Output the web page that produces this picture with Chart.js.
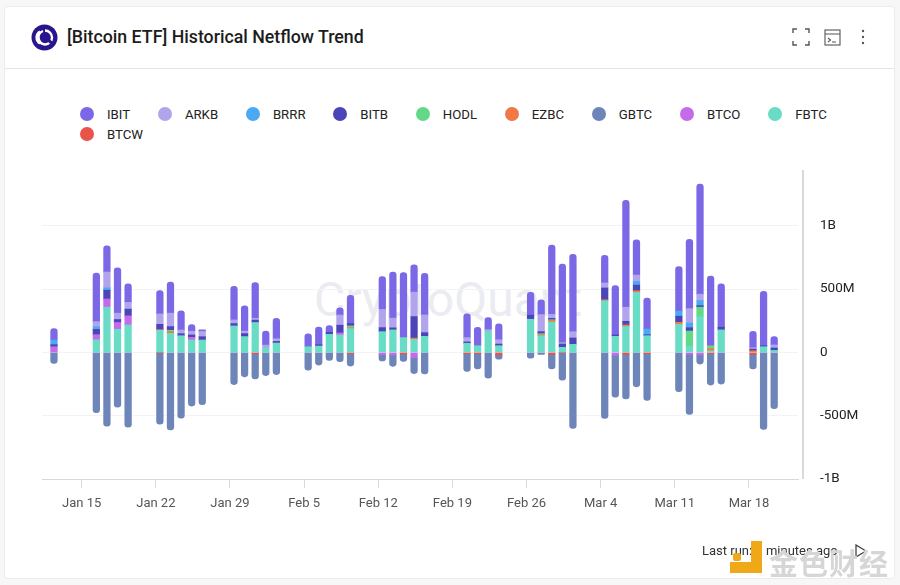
<!DOCTYPE html>
<html>
<head>
<meta charset="utf-8">
<title>Bitcoin ETF Historical Netflow Trend</title>
<script src="https://cdn.jsdelivr.net/npm/chart.js@4"></script>
<style>
  html, body { margin: 0; padding: 0; background: #f7f7f7; }
  body { width: 900px; height: 585px; position: relative; overflow: hidden; font-family: Roboto, sans-serif; }
  #card { position: absolute; left: 4px; top: 6px; width: 889px; height: 571px; background: #fff; border: 1px solid #ececec; border-radius: 4px; }
  #headerLine { position: absolute; left: 5px; top: 68px; width: 889px; height: 1px; background: #e4e4e4; }
  #logo { position: absolute; left: 31px; top: 24px; }
  #title { position: absolute; left: 67px; top: 26px; font-size: 17.75px; font-weight: 500; color: #1c1c1c; line-height: 22px; white-space: nowrap; }
  .icon { position: absolute; top: 28px; }
  #legend { position: absolute; left: 80px; top: 104px; width: 790px; display: flex; flex-wrap: wrap; font-size: 13.2px; color: #222; }
  .legend-item { display: flex; align-items: center; height: 20px; margin-right: 27.8px; }
  .legend-dot { width: 14px; height: 14px; border-radius: 50%; margin-right: 13px; }
  #mark { position: absolute; left: 314px; top: 271px; font-size: 48px; color: #ebecf1; white-space: nowrap; }
  #chart { position: absolute; left: 0; top: 0; }
  #lastRun { position: absolute; left: 702px; top: 543px; font-size: 13px; color: #333; white-space: nowrap; }
  #jinseText { position: absolute; left: 769px; top: 541px; font-family: "Noto Sans CJK SC"; font-size: 29px; font-weight: 700; color: #d6d6d6; letter-spacing: 1px; white-space: nowrap; }
  .jinse { position: absolute; background: #f0a818; }
</style>
</head>
<body>
<div id="card"></div>
<div id="headerLine"></div>
<svg id="logo" width="27" height="27" viewBox="0 0 27 27">
  <circle cx="13.5" cy="13.5" r="13" fill="#29168c"/>
  <path d="M9 7.5 A7 7 0 0 0 9 19.5" fill="none" stroke="#fff" stroke-width="2.4"/>
  <path d="M14 6.5 A7 7 0 1 1 14 20.5 A7 7 0 0 1 12 7" fill="none" stroke="#fff" stroke-width="2.4"/>
  <path d="M16 15 L23 21" stroke="#29168c" stroke-width="3"/>
</svg>
<div id="title">[Bitcoin ETF] Historical Netflow Trend</div>
<svg class="icon" style="left:792px" width="18" height="18" viewBox="0 0 18 18" fill="none" stroke="#555" stroke-width="1.4">
  <path d="M1 5V1H5M13 1H17V5M17 13V17H13M5 17H1V13"/>
</svg>
<svg class="icon" style="left:824px" width="17" height="18" viewBox="0 0 17 18" fill="none" stroke="#555" stroke-width="1.1">
  <rect x="1" y="2" width="15" height="15"/><path d="M1 6H16M4 10L6.5 12L4 14M8 14H12"/>
</svg>
<svg class="icon" style="left:861px" width="4" height="18" viewBox="0 0 4 18" fill="#555">
  <circle cx="2" cy="3" r="1.2"/><circle cx="2" cy="9" r="1.2"/><circle cx="2" cy="15" r="1.2"/>
</svg>
<div id="legend"></div>
<div id="mark">CryptoQuant</div>
<canvas id="chart" width="900" height="585"></canvas>
<div id="lastRun">Last run: 3 minutes ago</div>
<svg style="position:absolute;left:855px;top:544px" width="12" height="14" viewBox="0 0 12 14">
  <path d="M1 1L11 7L1 13Z" fill="none" stroke="#333" stroke-width="1.2"/>
</svg>
<div class="jinse" style="left:751px;top:541px;width:11px;height:32px"></div>
<div class="jinse" style="left:730px;top:562px;width:32px;height:11px"></div>
<div class="jinse" style="left:733px;top:553px;width:8px;height:8px;border-radius:2px"></div>
<div id="jinseText">金色财经</div>

<script>
// Trading days as day of year 2024 (Jan 12 = 12, Mar 1 = 61)
const days = [12, 16, 17, 18, 19, 22, 23, 24, 25, 26, 29, 30, 31, 32, 33, 36, 37, 38, 39, 40, 43, 44, 45, 46, 47, 51, 52, 53, 54, 57, 58, 59, 60, 61, 64, 65, 66, 67, 68, 71, 72, 73, 74, 75, 78, 79, 80]

// Netflow in millions of USD
const IBIT = [90, 384, 207, 358, 146, 185, 246, 151, 53, 13, 265, 199, 284, 111, 162, 101, 140, 53, 58, 223, 260, 363, 514, 215, 329, 188, 146, 95, 125, 180, 117, 546, 620, 610, 217, 390, 845, 278, 244, 352, 548, 869, 551, 342, 130, 429, 66]
const ARKB = [0, 40, 125, 50, 53, 82, 106, 29, 29, 42, 29, 19, 13, 24, 21, 0, 0, 0, 80, 0, 143, 77, 0, 193, 140, 34, 0, 13, 34, 0, 135, 32, 11, 50, 40, 0, 111, 50, 0, 0, 114, 50, 0, 0, 11, 0, 24]
const BRRR = [37, 21, 19, 0, 0, 0, 0, 0, 0, 0, 0, 0, 0, 0, 0, 0, 0, 0, 0, 0, 0, 0, 0, 0, 0, 0, 0, 0, 0, 0, 0, 0, 0, 0, 0, 0, 0, 29, 45, 40, 37, 40, 0, 0, 0, 0, 0]
const BITB = [16, 42, 69, 24, 53, 42, 29, 16, 19, 26, 19, 24, 19, 0, 13, 0, 11, 16, 61, 19, 32, 16, 0, 170, 29, 11, 0, 0, 13, 32, 16, 11, 26, 50, 93, 11, 29, 45, 8, 48, 26, 13, 0, 21, 13, 8, 19]
const HODL = [0, 0, 0, 0, 0, 0, 10, 0, 0, 0, 0, 0, 0, 0, 0, 0, 0, 0, 0, 13, 0, 0, 0, 0, 0, 0, 0, 0, 0, 0, 8, 5, 0, 0, 0, 0, 0, 0, 0, 0, 119, 74, 21, 0, 0, 0, 0]
const EZBC = [0, 0, 0, 0, 0, 5, 14, 0, 0, 0, 0, 0, 0, 0, 0, 0, 0, 0, 0, 8, 0, 0, 0, 10, 0, 0, 0, 0, 0, 0, 8, 13, 0, 0, 8, 0, 13, 13, 0, 16, 0, 0, 18, 0, 13, 0, 0]
const GBTC = [-87, -477, -583, -432, -591, -564, -612, -519, -424, -413, -254, -193, -200, -183, -175, -140, -100, -64, -74, -100, -50, -90, -60, -125, -170, -140, -120, -204, -33, -45, -16, -115, -216, -600, -522, -330, -352, -272, -370, -310, -475, -72, -250, -250, -115, -608, -445]
const BTCO = [45, 40, 64, 53, 72, 0, 0, 0, 21, 0, 0, 0, 0, 0, 0, 0, 0, 0, 16, 0, -18, -20, 0, -42, 0, 0, 0, 0, 0, 0, 0, 0, 0, 0, 0, -24, 0, 0, 0, 0, -15, -20, 0, 0, 0, 0, 0]
const FBTC = [0, 100, 358, 183, 217, 175, 151, 132, 98, 98, 209, 125, 236, 34, 74, 45, 50, 143, 138, 188, 164, 178, 117, 103, 127, 72, 53, 167, 53, 262, 132, 240, 40, 64, 408, 127, 204, 474, 132, 222, 50, 283, 13, 178, 0, 45, 16]
const BTCW = [0, 0, 0, 0, 0, -3, 0, 0, 0, 0, 0, 0, -10, 0, 0, 0, 0, 0, 0, -8, 0, 0, -12, 0, 0, -10, -10, 0, -20, 0, 0, -15, -3, 0, 0, 0, -15, 0, -10, 0, 0, 0, -8, 0, -15, 0, 0]

const legendNames = ["IBIT", "ARKB", "BRRR", "BITB", "HODL", "EZBC", "GBTC", "BTCO", "FBTC", "BTCW"]
const legendColors = ["#7b68e6", "#b1a4ec", "#4aa9f2", "#4c45b9", "#62d987", "#ef7a45", "#6e85b9", "#c56be9", "#68dcc5", "#e9534a"]

// Stack order from the zero line outwards, IBIT ends up on the far end
const stackOrder = ["BTCW", "FBTC", "BTCO", "GBTC", "EZBC", "HODL", "BITB", "BRRR", "ARKB", "IBIT"]
const seriesValues = { IBIT, ARKB, BRRR, BITB, HODL, EZBC, GBTC, BTCO, FBTC, BTCW }

// x axis ticks, the bars sit a bit right of their week tick
const tickDays = [15, 22, 29, 36, 43, 50, 57, 64, 71, 78]
const tickLabels = ["Jan 15", "Jan 22", "Jan 29", "Feb 5", "Feb 12", "Feb 19", "Feb 26", "Mar 4", "Mar 11", "Mar 18"]
const tickShift = 0.38

const yTicks = [-1000, -500, 0, 500, 1000]

function formatFlow(value) {
  if (value === 0) return "0"
  if (Math.abs(value) >= 1000) return value / 1000 + "B"
  return value + "M"
}

// Legend as plain html, it keeps the order of the product
const legendBox = document.getElementById("legend")
legendNames.forEach((name, i) => {
  const item = document.createElement("div")
  item.className = "legend-item"
  item.innerHTML = `<span class="legend-dot" style="background:${legendColors[i]}"></span>${name}`
  legendBox.appendChild(item)
})

// Vertical axis line stands a few pixels right of the plot
const rightAxisLine = {
  id: "rightAxisLine",
  afterDraw(chart) {
    const { ctx, chartArea } = chart
    ctx.save()
    ctx.fillStyle = "#d9d9d9"
    ctx.fillRect(chartArea.right + 4, chartArea.top, 2, chartArea.bottom - chartArea.top)
    ctx.restore()
  },
}

new Chart(document.getElementById("chart"), {
  type: "bar",
  data: {
    labels: days,
    datasets: stackOrder.map((name) => ({
      label: name,
      // no flow that day means no segment at all
      data: seriesValues[name].map((value) => (value === 0 ? null : value)),
      backgroundColor: legendColors[legendNames.indexOf(name)],
      barThickness: 6.6,
      borderRadius: 3.3,
      borderSkipped: "middle",
    })),
  },
  options: {
    responsive: false,
    animation: false,
    layout: { padding: { left: 42, right: 0, top: 170, bottom: 65 } },
    plugins: { legend: { display: false }, tooltip: { enabled: false } },
    scales: {
      x: {
        type: "linear",
        offset: false,
        stacked: true,
        min: 10.87,
        max: 82.25,
        afterBuildTicks(scale) {
          scale.ticks = tickDays.map((day) => ({ value: day - tickShift }))
        },
        afterFit(scale) {
          scale.height = 41
        },
        grid: { offset: false, drawOnChartArea: false, tickLength: 9, tickColor: "#d9d9d9" },
        border: { color: "#d9d9d9", width: 1 },
        ticks: {
          autoSkip: false,
          maxRotation: 0,
          padding: 8,
          color: "#555",
          font: { family: "Roboto", size: 13 },
          callback: (value, index) => tickLabels[index],
        },
      },
      y: {
        position: "right",
        stacked: true,
        min: -1000,
        max: 1441,
        afterBuildTicks(scale) {
          scale.ticks = yTicks.map((value) => ({ value }))
        },
        afterFit(scale) {
          scale.width = 102
        },
        grid: { color: "#f3f3f3", drawTicks: false },
        border: { display: false },
        ticks: {
          padding: 22,
          color: "#222",
          font: { family: "Roboto", size: 13.5 },
          callback: (value) => formatFlow(value),
        },
      },
    },
  },
  plugins: [rightAxisLine],
})
</script>
</body>
</html>
